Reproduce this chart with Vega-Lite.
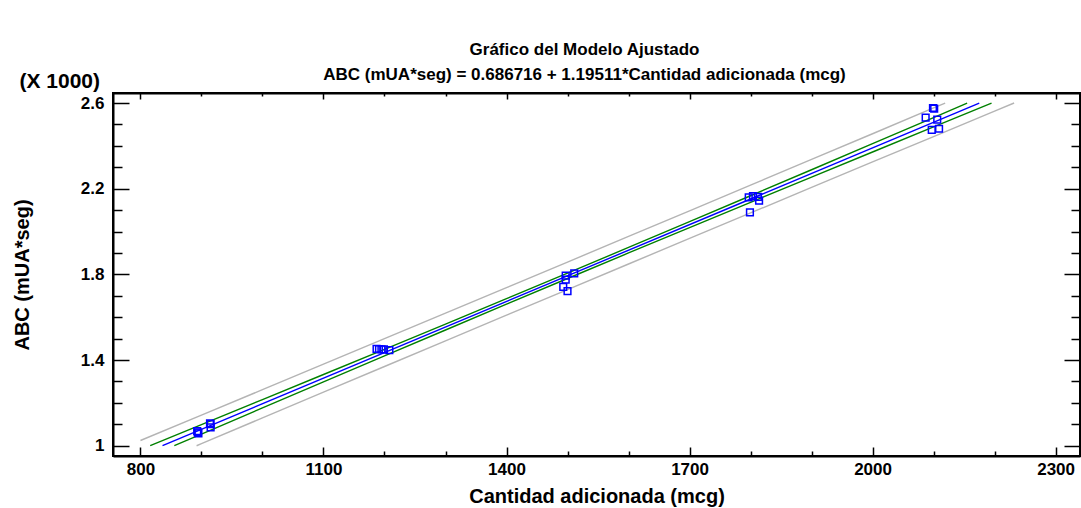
{
  "$schema": "https://vega.github.io/schema/vega-lite/v6.json",
  "width": 967,
  "height": 363,
  "autosize": {"type": "none"},
  "padding": {"left": 113, "top": 93, "right": 1, "bottom": 52},
  "background": "white",
  "title": {
    "text": ["Gráfico del Modelo Ajustado", "ABC (mUA*seg) = 0.686716 + 1.19511*Cantidad adicionada (mcg)"],
    "font": "Liberation Sans",
    "fontSize": 17,
    "fontWeight": "bold",
    "color": "black",
    "anchor": "middle",
    "lineHeight": 25,
    "offset": -13,
    "dx": -12
  },
  "config": {
    "view": {"stroke": "black", "strokeWidth": 2},
    "axis": {
      "grid": false,
      "domainColor": "black",
      "domainWidth": 2,
      "tickColor": "black",
      "tickWidth": 1.5,
      "labelFont": "Liberation Sans",
      "labelFontSize": 17,
      "labelFontWeight": "bold",
      "labelColor": "black",
      "titleFont": "Liberation Sans",
      "titleFontSize": 20,
      "titleFontWeight": "bold",
      "titleColor": "black"
    }
  },
  "datasets": {
    "gray": [
      {"x": 800, "y": 1024.3, "s": "upper"}, {"x": 900, "y": 1143.0, "s": "upper"}, {"x": 1000, "y": 1261.7, "s": "upper"},
      {"x": 1100, "y": 1380.6, "s": "upper"}, {"x": 1200, "y": 1499.7, "s": "upper"}, {"x": 1300, "y": 1618.8, "s": "upper"},
      {"x": 1400, "y": 1738.1, "s": "upper"}, {"x": 1500, "y": 1857.6, "s": "upper"}, {"x": 1600, "y": 1977.2, "s": "upper"},
      {"x": 1700, "y": 2096.9, "s": "upper"}, {"x": 1800, "y": 2216.8, "s": "upper"}, {"x": 1900, "y": 2336.7, "s": "upper"},
      {"x": 2000, "y": 2456.8, "s": "upper"}, {"x": 2100, "y": 2577.1, "s": "upper"}, {"x": 2119, "y": 2599.9, "s": "upper"},
      {"x": 892, "y": 999.9, "s": "lower"}, {"x": 900, "y": 1009.6, "s": "lower"}, {"x": 1000, "y": 1129.9, "s": "lower"},
      {"x": 1100, "y": 1250.0, "s": "lower"}, {"x": 1200, "y": 1369.9, "s": "lower"}, {"x": 1300, "y": 1489.8, "s": "lower"},
      {"x": 1400, "y": 1609.5, "s": "lower"}, {"x": 1500, "y": 1729.2, "s": "lower"}, {"x": 1600, "y": 1848.6, "s": "lower"},
      {"x": 1700, "y": 1967.9, "s": "lower"}, {"x": 1800, "y": 2087.0, "s": "lower"}, {"x": 1900, "y": 2206.1, "s": "lower"},
      {"x": 2000, "y": 2325.0, "s": "lower"}, {"x": 2100, "y": 2443.6, "s": "lower"}, {"x": 2200, "y": 2562.4, "s": "lower"},
      {"x": 2232, "y": 2600.4, "s": "lower"}
    ],
    "green": [
      {"x": 816, "y": 1000.1, "s": "upper"}, {"x": 900, "y": 1098.1, "s": "upper"}, {"x": 1000, "y": 1215.3, "s": "upper"},
      {"x": 1100, "y": 1332.6, "s": "upper"}, {"x": 1200, "y": 1450.2, "s": "upper"}, {"x": 1300, "y": 1568.2, "s": "upper"},
      {"x": 1400, "y": 1686.7, "s": "upper"}, {"x": 1500, "y": 1806.0, "s": "upper"}, {"x": 1600, "y": 1925.8, "s": "upper"},
      {"x": 1700, "y": 2046.3, "s": "upper"}, {"x": 1800, "y": 2167.3, "s": "upper"}, {"x": 1900, "y": 2288.7, "s": "upper"},
      {"x": 2000, "y": 2410.4, "s": "upper"}, {"x": 2100, "y": 2532.2, "s": "upper"}, {"x": 2155, "y": 2600.0, "s": "upper"},
      {"x": 855.5, "y": 1000.2, "s": "lower"}, {"x": 900, "y": 1054.5, "s": "lower"}, {"x": 1000, "y": 1176.3, "s": "lower"},
      {"x": 1100, "y": 1298.0, "s": "lower"}, {"x": 1200, "y": 1419.4, "s": "lower"}, {"x": 1300, "y": 1540.4, "s": "lower"},
      {"x": 1400, "y": 1660.9, "s": "lower"}, {"x": 1500, "y": 1780.8, "s": "lower"}, {"x": 1600, "y": 1900.0, "s": "lower"},
      {"x": 1700, "y": 2018.5, "s": "lower"}, {"x": 1800, "y": 2136.5, "s": "lower"}, {"x": 1900, "y": 2254.1, "s": "lower"},
      {"x": 2000, "y": 2371.4, "s": "lower"}, {"x": 2100, "y": 2488.6, "s": "lower"}, {"x": 2195, "y": 2599.8, "s": "lower"}
    ],
    "blue": [
      {"x": 836.2, "y": 1000.0}, {"x": 2174.9, "y": 2600.0}
    ],
    "pts": [
      {"x": 893, "y": 1068}, {"x": 894, "y": 1062}, {"x": 895, "y": 1058}, {"x": 914, "y": 1104}, {"x": 915, "y": 1101}, {"x": 915, "y": 1086},
      {"x": 1187, "y": 1452}, {"x": 1191, "y": 1451}, {"x": 1195, "y": 1450}, {"x": 1199, "y": 1450}, {"x": 1208, "y": 1446},
      {"x": 1497, "y": 1794}, {"x": 1497, "y": 1776}, {"x": 1511, "y": 1805}, {"x": 1493, "y": 1742}, {"x": 1500, "y": 1722},
      {"x": 1797, "y": 2160}, {"x": 1804, "y": 2166}, {"x": 1812, "y": 2162}, {"x": 1814, "y": 2144}, {"x": 1799, "y": 2090},
      {"x": 2099, "y": 2577}, {"x": 2101, "y": 2574}, {"x": 2087, "y": 2532}, {"x": 2106, "y": 2523}, {"x": 2097, "y": 2475}, {"x": 2109, "y": 2480}
    ]
  },
  "layer": [
    {
      "data": {"name": "gray"},
      "mark": {"type": "line", "color": "#b4b4b4", "strokeWidth": 1.4},
      "encoding": {
        "x": {
          "field": "x", "type": "quantitative",
          "scale": {"domain": [755, 2340], "nice": false, "zero": false},
          "axis": {
            "orient": "bottom",
            "values": [800, 900, 1000, 1100, 1200, 1300, 1400, 1500, 1600, 1700, 1800, 1900, 2000, 2100, 2200, 2300],
            "labelExpr": "datum.value % 300 == 200 ? format(datum.value, 'd') : ''",
            "tickSize": {"condition": {"test": "datum.value % 300 == 200", "value": -9}, "value": -5},
            "labelPadding": 14,
            "labelFlush": false,
            "title": "Cantidad adicionada (mcg)",
            "titlePadding": 9
          }
        },
        "y": {
          "field": "y", "type": "quantitative",
          "scale": {"domain": [952, 2647], "nice": false, "zero": false},
          "axis": {
            "orient": "left",
            "values": [1000, 1100, 1200, 1300, 1400, 1500, 1600, 1700, 1800, 1900, 2000, 2100, 2200, 2300, 2400, 2500, 2600],
            "labelExpr": "datum.value % 400 == 200 ? format(datum.value / 1000, '~g') : ''",
            "tickSize": {"condition": {"test": "datum.value % 400 == 200", "value": -16}, "value": -9},
            "labelPadding": 25,
            "labelFlush": false,
            "title": "ABC (mUA*seg)",
            "titlePadding": 48
          }
        },
        "detail": {"field": "s", "type": "nominal"}
      }
    },
    {
      "data": {"name": "green"},
      "mark": {"type": "line", "color": "#008000", "strokeWidth": 1.4},
      "encoding": {
        "x": {"field": "x", "type": "quantitative", "axis": null},
        "y": {"field": "y", "type": "quantitative", "axis": null},
        "detail": {"field": "s", "type": "nominal"}
      }
    },
    {
      "data": {"name": "blue"},
      "mark": {"type": "line", "color": "#0000ff", "strokeWidth": 1.4},
      "encoding": {
        "x": {
          "field": "x", "type": "quantitative",
          "axis": {
            "orient": "top",
            "values": [800, 900, 1000, 1100, 1200, 1300, 1400, 1500, 1600, 1700, 1800, 1900, 2000, 2100, 2200, 2300],
            "labels": false,
            "title": null,
            "tickSize": {"condition": {"test": "datum.value % 300 == 200", "value": -6}, "value": -3}
          }
        },
        "y": {
          "field": "y", "type": "quantitative",
          "axis": {
            "orient": "right",
            "values": [1000, 1100, 1200, 1300, 1400, 1500, 1600, 1700, 1800, 1900, 2000, 2100, 2200, 2300, 2400, 2500, 2600],
            "labels": false,
            "title": null,
            "tickSize": {"condition": {"test": "datum.value % 400 == 200", "value": -16}, "value": -9}
          }
        }
      }
    },
    {
      "data": {"name": "pts"},
      "mark": {"type": "point", "shape": "square", "filled": false, "color": "#0000ff", "size": 45, "strokeWidth": 1.5, "opacity": 1},
      "encoding": {
        "x": {"field": "x", "type": "quantitative", "axis": null},
        "y": {"field": "y", "type": "quantitative", "axis": null}
      }
    },
    {
      "data": {"values": [{}]},
      "mark": {"type": "text", "align": "right", "baseline": "alphabetic", "dx": -13, "dy": -5, "font": "Liberation Sans", "fontSize": 21, "fontWeight": "bold", "color": "black"},
      "encoding": {
        "x": {"datum": 755, "type": "quantitative", "axis": null},
        "y": {"datum": 2647, "type": "quantitative", "axis": null},
        "text": {"value": "(X 1000)"}
      }
    }
  ],
  "resolve": {"axis": {"x": "independent", "y": "independent"}}
}
